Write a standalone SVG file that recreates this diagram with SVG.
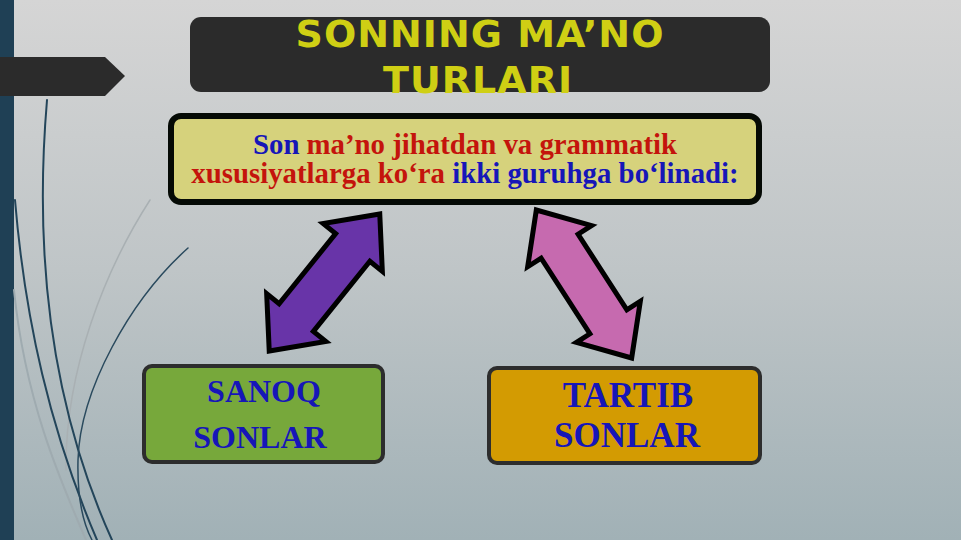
<svg xmlns="http://www.w3.org/2000/svg" width="961" height="540" viewBox="0 0 961 540">
  <defs>
    <linearGradient id="bg" x1="0" y1="0" x2="0" y2="1">
      <stop offset="0" stop-color="#d5d5d5"/>
      <stop offset="0.5" stop-color="#bfc5c7"/>
      <stop offset="1" stop-color="#a1b1b6"/>
    </linearGradient>
    <style>
      .deco { fill: none; stroke-linecap: round; }
      .arrow { stroke: #000; stroke-width: 5; stroke-linejoin: miter; }
      .box { stroke: #2d2d2d; stroke-width: 4; }
      .serif { font-family: "Liberation Serif", "Times New Roman", serif; font-weight: bold; }
      .blue { fill: #1616b8; }
      .red { fill: #c4140c; }
      .title { font-family: "DejaVu Sans", "Liberation Sans", sans-serif; font-weight: bold; font-size: 38px; letter-spacing: 1px; fill: #cfcf14; }
    </style>
  </defs>

  <!-- background -->
  <rect x="0" y="0" width="961" height="540" fill="url(#bg)"/>
  <rect x="0" y="0" width="14" height="540" fill="#1f4055"/>
  <polygon points="0,57 105,57 125,76 105,96 0,96" fill="#2b2b2b"/>

  <!-- decorative curves -->
  <g id="decor">
    <path class="deco" d="M150,200 C105,270 65,370 66,470" stroke="#a9b0b3" stroke-width="1.5"/>
    <path class="deco" d="M14,290 C25,400 60,480 86,540" stroke="#9fabb0" stroke-width="2"/>
    <path class="deco" d="M47,100 C36,230 44,390 112,540" stroke="#23455a" stroke-width="2"/>
    <path class="deco" d="M15,200 C25,320 50,430 97,540" stroke="#23455a" stroke-width="2"/>
    <path class="deco" d="M188,248 C130,300 80,390 78,460 C77,500 84,525 92,540" stroke="#2a4a5e" stroke-width="1.5"/>
  </g>

  <!-- title -->
  <g id="title">
    <rect x="190" y="17" width="580" height="75" rx="11" fill="#2b2b2b"/>
    <text class="title" x="480" y="47" text-anchor="middle">SONNING MA’NO</text>
    <text class="title" x="478" y="93" text-anchor="middle">TURLARI</text>
  </g>

  <!-- main statement -->
  <g id="statement">
    <rect x="171" y="116" width="588" height="86" rx="10" fill="#d6d27c" stroke="#050a05" stroke-width="6"/>
    <text class="serif" font-size="28.8" x="465" y="154" text-anchor="middle"><tspan class="blue">Son</tspan><tspan class="red"> ma’no jihatdan va grammatik</tspan></text>
    <text class="serif" font-size="28.8" x="465" y="183" text-anchor="middle"><tspan class="red">xususiyatlarga ko‘ra </tspan><tspan class="blue">ikki guruhga bo‘linadi:</tspan></text>
  </g>

  <!-- connectors -->
  <g id="connectors">
    <polygon class="arrow" fill="#6834a8" transform="translate(324.5,282.5) rotate(-51.1)" points="88,0 45,38 45,22 -45,22 -45,38 -88,0 -45,-38 -45,-22 45,-22 45,-38"/>
    <polygon class="arrow" fill="#c66aaf" transform="translate(584,284) rotate(57.2)" points="88,0 45,38 45,22 -45,22 -45,38 -88,0 -45,-38 -45,-22 45,-22 45,-38"/>
  </g>

  <!-- SANOQ SONLAR -->
  <g id="sanoq">
    <rect class="box" x="144" y="366" width="239" height="96" rx="8" fill="#77a83b"/>
    <text class="serif blue" font-size="32" x="264" y="402" text-anchor="middle">SANOQ</text>
    <text class="serif blue" font-size="32" x="260" y="448" text-anchor="middle">SONLAR</text>
  </g>

  <!-- TARTIB SONLAR -->
  <g id="tartib">
    <rect class="box" x="489" y="368" width="271" height="95" rx="8" fill="#d39b02"/>
    <text class="serif blue" font-size="35" x="628" y="407" text-anchor="middle">TARTIB</text>
    <text class="serif blue" font-size="35" x="627" y="447" text-anchor="middle">SONLAR</text>
  </g>
</svg>
